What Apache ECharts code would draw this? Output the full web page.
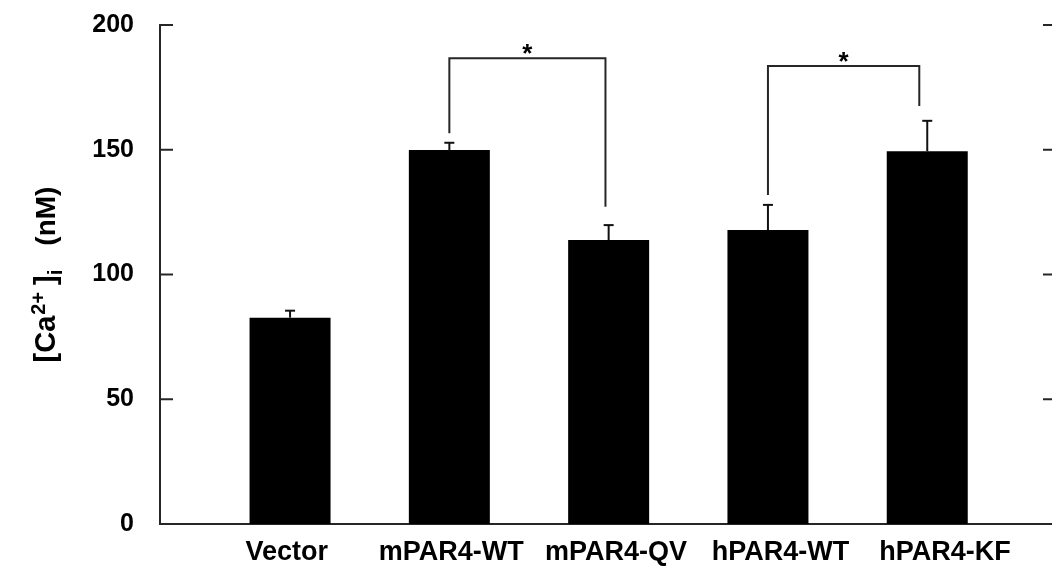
<!DOCTYPE html>
<html>
<head>
<meta charset="utf-8">
<style>
  html, body { margin: 0; padding: 0; background: #fff; }
  #chart { width: 1052px; height: 571px; }
</style>
<script src="https://cdn.jsdelivr.net/npm/echarts@6/dist/echarts.min.js"></script>
</head>
<body>
<div id="chart"></div>
<script>
// ---- data ----
const categories = ['Vector', 'mPAR4-WT', 'mPAR4-QV', 'hPAR4-WT', 'hPAR4-KF'];
const means = [82.7, 149.9, 113.8, 117.8, 149.4];
const errors = [2.8, 2.9, 6.0, 10.1, 12.2];
const yTicks = [0, 50, 100, 150, 200];
// significance brackets (category index positions, heights in nM)
const bracketFrom = [1, 3];
const bracketTo = [1.98, 3.95];
const bracketTop = [186.7, 183.6];
const bracketLeftLow = [156.6, 131.9];
const bracketRightLow = [127.2, 167.5];
const bracketLabels = ['*', '*'];

const FONT = "'Liberation Sans', Arial, Helvetica, sans-serif";
const LINE = '#262626';

const chart = echarts.init(document.getElementById('chart'), null, { renderer: 'canvas' });

const errData = categories.map((c, i) => [i, means[i], errors[i]]);
const bracketData = bracketFrom.map((f, i) => [f, bracketTo[i], bracketTop[i], bracketLeftLow[i], bracketRightLow[i], i]);
const tickData = yTicks.map(v => [0, v]);

const option = {
  animation: false,
  backgroundColor: '#ffffff',
  grid: [
    { left: 160, right: -2, top: 25, bottom: 47 },
    { left: 210.4, width: 796.5, top: 25, bottom: 47 },
    { left: 204.4, width: 823, top: 25, bottom: 47 }
  ],
  xAxis: [
    { gridIndex: 0, type: 'value', min: 0, max: 1, position: 'bottom',
      axisLine: { show: true, lineStyle: { color: LINE, width: 2 } },
      axisTick: { show: false }, axisLabel: { show: false }, splitLine: { show: false } },
    { gridIndex: 0, type: 'value', min: 0, max: 1, position: 'top',
      axisLine: { show: true, lineStyle: { color: LINE, width: 2 } },
      axisTick: { show: false }, axisLabel: { show: false }, splitLine: { show: false } },
    { gridIndex: 1, type: 'category', data: categories, show: false },
    { gridIndex: 1, type: 'value', min: -0.5, max: 4.5, show: false },
    { gridIndex: 2, type: 'category', data: categories, position: 'bottom',
      axisLine: { show: false }, axisTick: { show: false }, splitLine: { show: false },
      axisLabel: { show: true, margin: 15, color: '#000', fontFamily: FONT, fontWeight: 'bold', fontSize: 27, interval: 0 } }
  ],
  yAxis: [
    { gridIndex: 0, type: 'value', min: yTicks[0], max: yTicks[yTicks.length - 1], interval: 50, position: 'left',
      axisLine: { show: true, lineStyle: { color: LINE, width: 2 } },
      axisTick: { show: false },
      axisLabel: { show: true, margin: 26, color: '#000', fontFamily: FONT, fontWeight: 'bold', fontSize: 25,
        padding: [0, 0, 8, 0] },
      splitLine: { show: false },
      name: '{a|[Ca}{sup|2+}{a|]}{sub|i}{b|(nM)}',
      nameLocation: 'middle', nameRotate: 90, nameGap: 94,
      nameTextStyle: {
        fontFamily: FONT, fontWeight: 'bold', color: '#000',
        rich: {
          a: { fontFamily: FONT, fontWeight: 'bold', fontSize: 29, color: '#000', lineHeight: 34 },
          b: { fontFamily: FONT, fontWeight: 'bold', fontSize: 28, color: '#000', lineHeight: 34, padding: [0, 0, 0, 24] },
          sup: { fontFamily: FONT, fontWeight: 'bold', fontSize: 20, color: '#000', verticalAlign: 'bottom', padding: [0, 7, 17, 1] },
          sub: { fontFamily: FONT, fontWeight: 'bold', fontSize: 20, color: '#000', verticalAlign: 'top', padding: [18, 0, 0, 0] }
        }
      }
    },
    { gridIndex: 0, type: 'value', min: 0, max: 200, interval: 50, position: 'right',
      axisLine: { show: true, lineStyle: { color: LINE, width: 2 } },
      axisTick: { show: false },
      axisLabel: { show: false }, splitLine: { show: false } },
    { gridIndex: 1, type: 'value', min: 0, max: 200, show: false },
    { gridIndex: 2, type: 'value', min: 0, max: 200, show: false }
  ],
  series: [
    {
      // inward tick marks on left and right frame axes
      type: 'custom', xAxisIndex: 0, yAxisIndex: 0,
      data: tickData, silent: true,
      renderItem: function (params, api) {
        const l = api.coord([0, api.value(1)]);
        const r = api.coord([1, api.value(1)]);
        const style = { stroke: LINE, lineWidth: 2 };
        return {
          type: 'group',
          children: [
            { type: 'line', shape: { x1: l[0], y1: l[1], x2: l[0] + 13, y2: l[1] }, style: style },
            { type: 'line', shape: { x1: r[0], y1: r[1], x2: r[0] - 9, y2: r[1] }, style: style }
          ]
        };
      }
    },
    {
      type: 'bar', xAxisIndex: 2, yAxisIndex: 2,
      data: means, barWidth: 81,
      itemStyle: { color: '#000' }
    },
    {
      type: 'custom', xAxisIndex: 2, yAxisIndex: 2,
      data: errData,
      renderItem: function (params, api) {
        const i = api.value(0);
        const base = api.coord([i, api.value(1)]);
        const top = api.coord([i, api.value(1) + api.value(2)]);
        const style = { stroke: '#111', lineWidth: 2 };
        return {
          type: 'group',
          children: [
            { type: 'line', shape: { x1: base[0], y1: base[1], x2: top[0], y2: top[1] }, style: style },
            { type: 'line', shape: { x1: top[0] - 5, y1: top[1], x2: top[0] + 5, y2: top[1] }, style: style }
          ]
        };
      },
      z: 3
    },
    {
      type: 'custom', xAxisIndex: 3, yAxisIndex: 2,
      data: bracketData,
      renderItem: function (params, api) {
        const f = api.value(0), t = api.value(1), h = api.value(2), l = api.value(3), r = api.value(4);
        const p1 = api.coord([f, l]);
        const p2 = api.coord([f, h]);
        const p3 = api.coord([t, h]);
        const p4 = api.coord([t, r]);
        const idx = api.value(5);
        return {
          type: 'group',
          children: [
            { type: 'polyline', shape: { points: [p1, p2, p3, p4] },
              style: { stroke: LINE, lineWidth: 2, fill: null } },
            { type: 'text', style: {
                text: bracketLabels[idx], x: (p2[0] + p3[0]) / 2, y: p2[1] + 10,
                align: 'center', verticalAlign: 'bottom',
                font: "bold 26px " + FONT, fill: '#000' } }
          ]
        };
      }
    }
  ]
};

chart.setOption(option);
</script>
</body>
</html>
